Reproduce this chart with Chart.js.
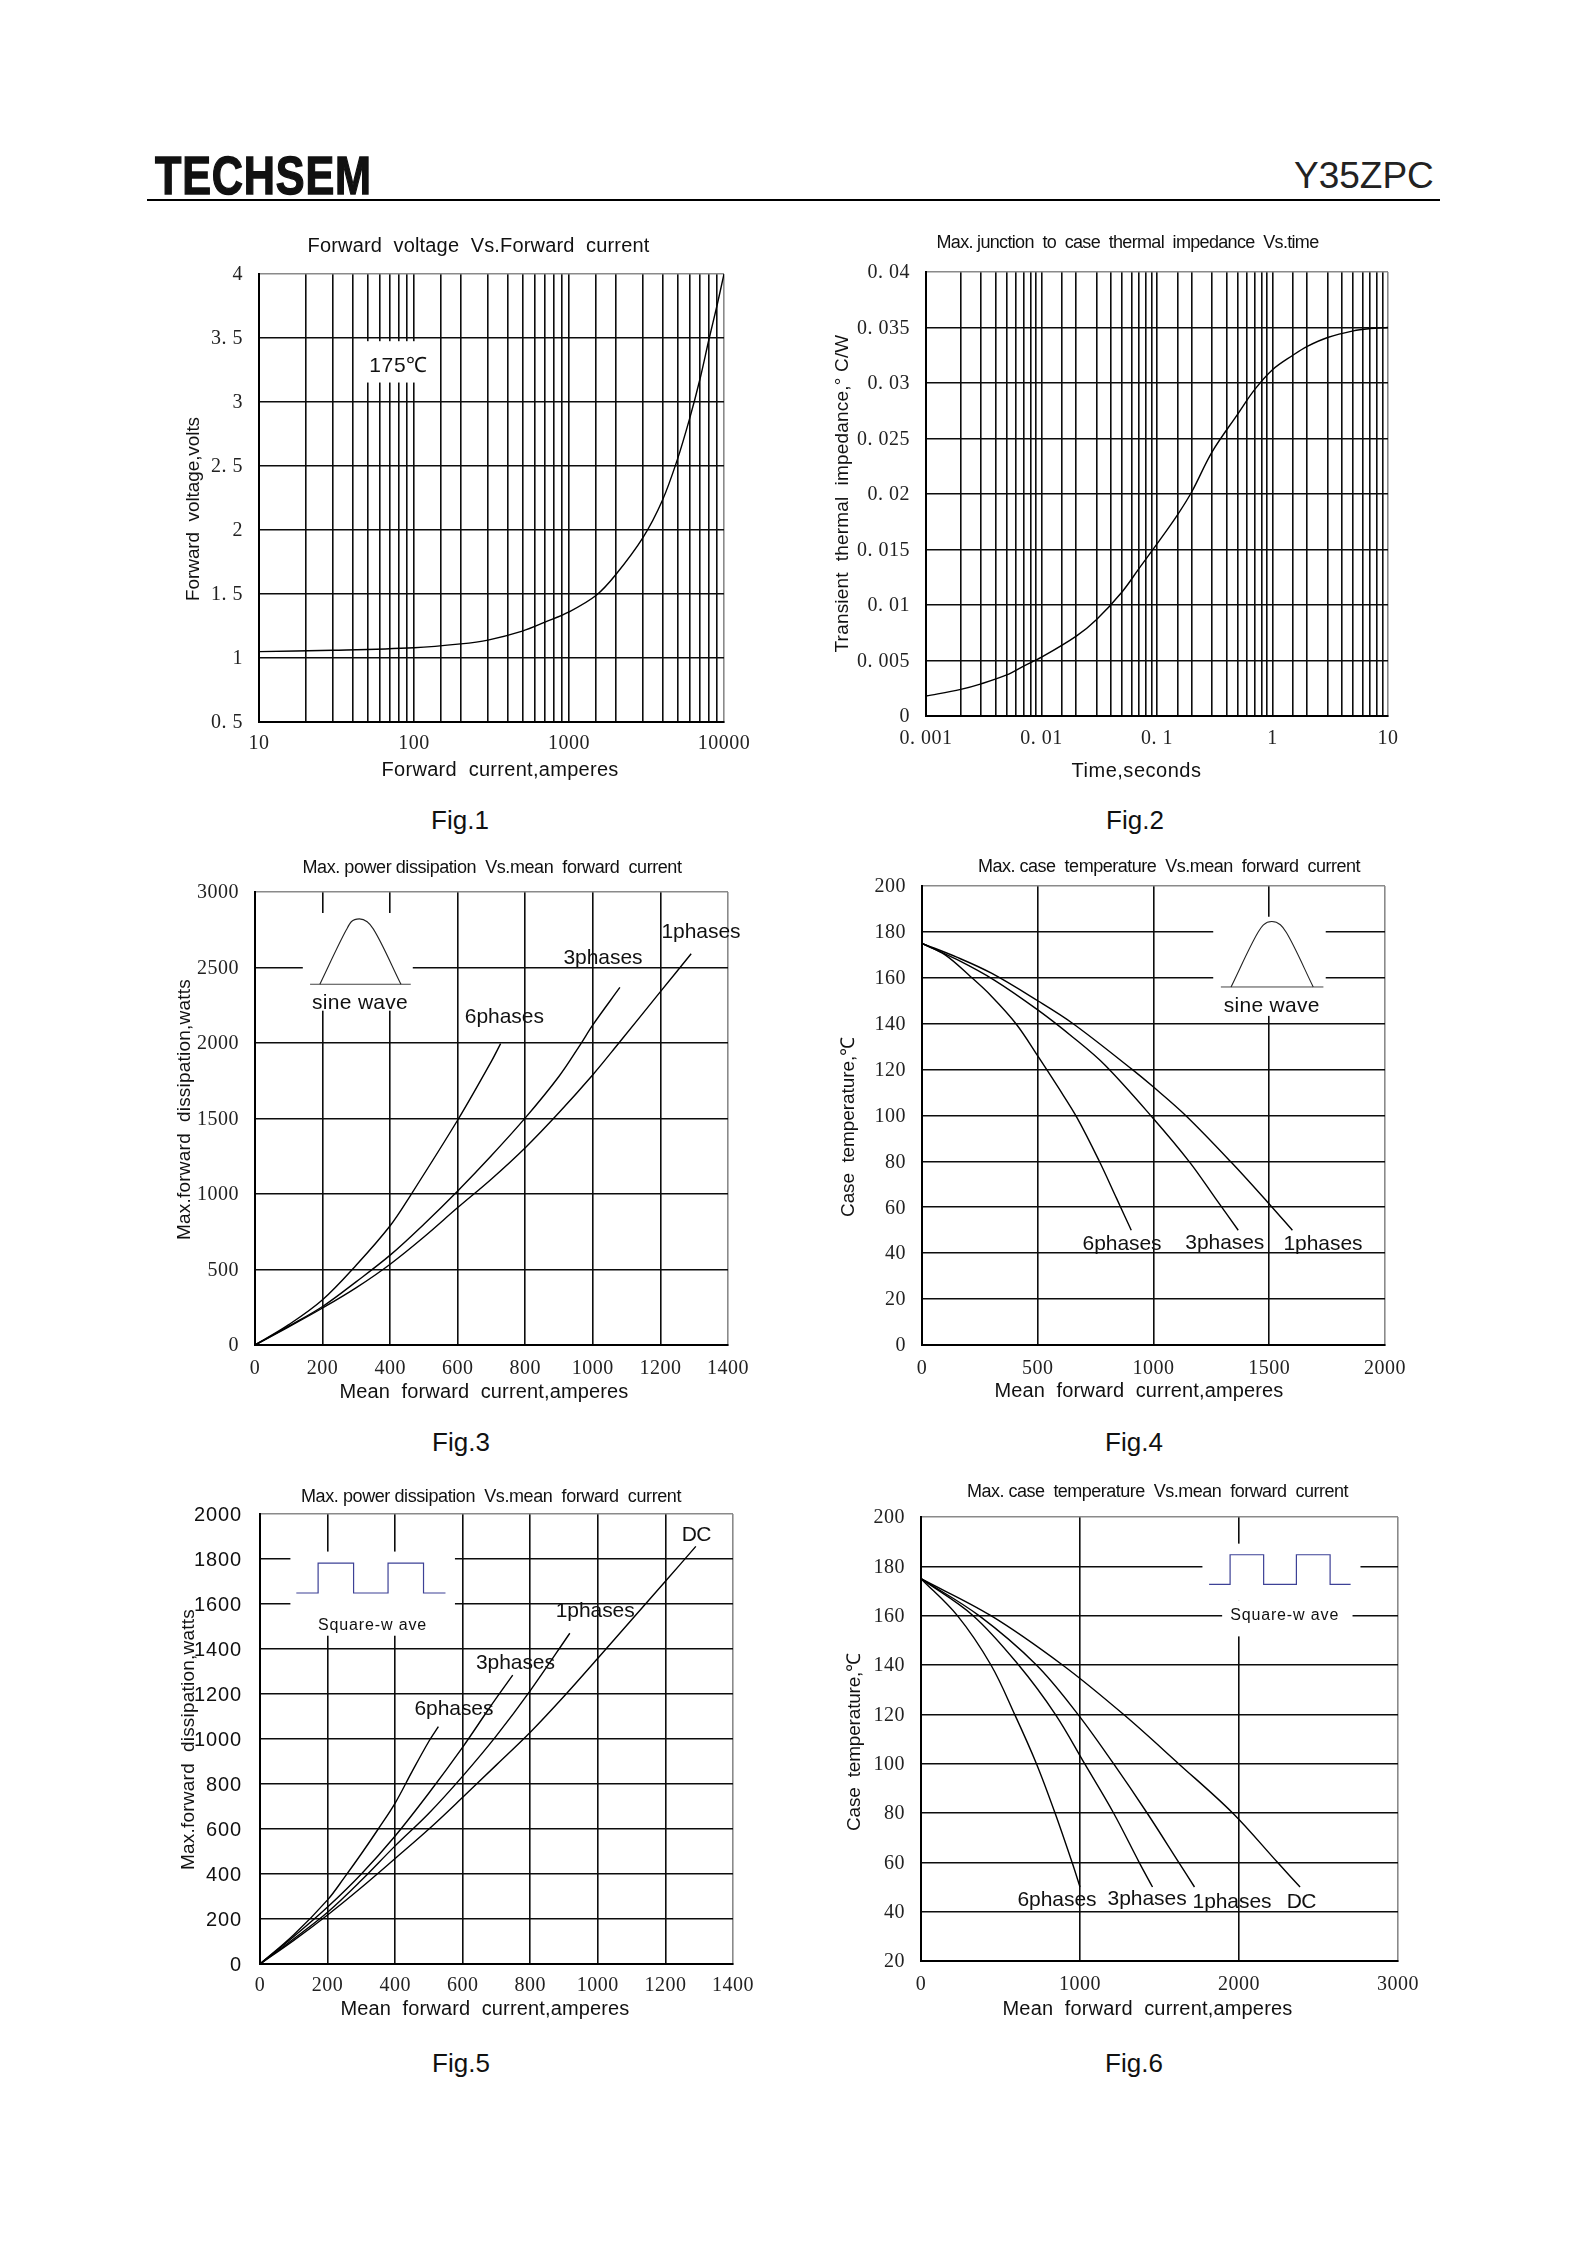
<!DOCTYPE html>
<html><head><meta charset="utf-8"><title>Y35ZPC</title>
<script src="https://cdn.jsdelivr.net/npm/chart.js@4/dist/chart.umd.min.js"></script>
<style>
html,body{margin:0;padding:0;background:#fff}
#page{position:relative;width:1588px;height:2245px;overflow:hidden;background:#fff;font-family:"Liberation Sans",Arial,sans-serif;color:#111}
canvas{position:absolute}
.t{position:absolute;white-space:nowrap;transform:translate(-50%,-50%)}
#logo{position:absolute;left:155px;top:148px;font-weight:700;font-size:54px;line-height:54px;letter-spacing:1px;transform-origin:0 0;transform:scaleX(.80);-webkit-text-stroke:1.4px #111;white-space:nowrap}
#part{position:absolute;left:1294px;top:153.5px;font-size:37px;line-height:44px;color:#222}
#rule{position:absolute;left:147px;top:199px;width:1293px;height:2px;background:#000}
</style></head><body><div id="page">
<div id="logo">TECHSEM</div><div id="part">Y35ZPC</div><div id="rule"></div>
</div>
<script>
// ---------- Data ----------
const fig1X=[10,30,100,200,300,500,700,1000,1500,2000,3000,4000,5000,6000,7000,8000,9000,10000];
const fig1Y=[1.05,1.06,1.08,1.11,1.14,1.21,1.28,1.36,1.49,1.65,1.94,2.23,2.55,2.87,3.18,3.49,3.75,4];

const fig2X=[0.001,0.002,0.003,0.005,0.007,0.01,0.02,0.03,0.05,0.07,0.1,0.15,0.2,0.3,0.5,0.7,1,1.5,2,3,5,7,10];
const fig2Y=[0.0018,0.0024,0.0029,0.0037,0.0045,0.0053,0.0072,0.0087,0.0112,0.0133,0.0155,0.0181,0.0202,0.0238,0.0272,0.0294,0.0312,0.0325,0.0333,0.0341,0.0347,0.0349,0.035];

const fig3X6=[0,100,200,300,400,460,600,700,727];
const fig3Y6=[0,135,300,530,790,990,1490,1880,1996];
const fig3X3=[0,100,200,300,400,500,600,700,800,900,963,1000,1080];
const fig3Y3=[0,125,255,420,595,800,1020,1255,1504,1780,1990,2120,2368];
const fig3X1=[0,100,200,300,400,500,600,700,800,900,1000,1077,1200,1291];
const fig3Y1=[0,120,245,380,535,715,910,1100,1307,1540,1790,2000,2340,2591];

const fig4X6=[0,100,210,300,406,500,590,670,764,840,904];
const fig4Y6=[175,170,160.5,152,140,126,112,99,80.5,64,50];
const fig4X3=[0,150,312,500,653,790,1000,1156,1267,1366];
const fig4Y3=[175,168,159,146,134,122,98.6,79.7,64,50];
const fig4X1=[0,150,300,500,653,909,1000,1139,1335,1495,1600];
const fig4Y1=[175,169,162,150,140,120,112.4,100,79.7,62,50];

const fig5X6=[0,100,200,250,300,350,400,450,500,528];
const fig5Y6=[0,130,285,385,490,600,715,855,990,1055];
const fig5X3=[0,100,200,300,400,500,600,680,748];
const fig5Y3=[0,122,253,400,569,760,964,1140,1284];
const fig5X1=[0,100,200,300,400,500,600,700,800,917];
const fig5Y1=[0,112,230,372,525,670,835,1015,1215,1470];
const fig5XDC=[0,100,200,300,400,500,600,700,800,900,1000,1100,1200,1290];
const fig5YDC=[0,105,218,340,469,600,741,885,1030,1190,1359,1530,1701,1856];

const fig6X6=[0,229,440,589,726,843,950,1000];
const fig6X3=[0,328,614,845,1029,1211,1372,1456];
const fig6X1=[0,365,726,987,1211,1422,1621,1720];
const fig6XDC=[0,440,890,1273,1620,1960,2242,2384];
const fig6Temps=[175,160,140,120,100,80,60,50];

// inset wave shapes (axis units)
const sine3X=[192,270,285,309,332,350,432], sine3Y=[2389,2748,2803,2822,2803,2756,2389];
const base3X=[163,461], base3Y=[2389,2389];
const sine4X=[1335,1451,1475,1511,1548,1574,1690], sine4Y=[156,179.7,183.1,184.5,183.1,179.7,156];
const base4X=[1291,1734], base4Y=[156,156];
const square5X=[107.5,172,172,277,277,379,379,484,484,549], square5Y=[1649,1649,1782,1782,1649,1649,1782,1782,1649,1649];
const square6X=[1812,1944,1944,2155,2155,2361,2361,2573,2573,2702], square6Y=[172.7,172.7,184.7,184.7,172.7,172.7,184.7,184.7,172.7,172.7];

// tick labels
const ticksV=['0. 5','1','1. 5','2','2. 5','3','3. 5','4'];
const ticksI=['10','100','1000','10000'];
const ticksZ=['0','0. 005','0. 01','0. 015','0. 02','0. 025','0. 03','0. 035','0. 04'];
const ticksT=['0. 001','0. 01','0. 1','1','10'];

// ---------- Helpers ----------
const pts=(xs,ys)=>xs.map((x,i)=>({x,y:ys[i]}));
const curve=(name,xs,ys)=>({label:name,data:pts(xs,ys),borderColor:'#000',borderWidth:1.4,pointRadius:0,tension:0.35,fill:false});
const inset=(name,xs,ys,color,w)=>({label:name,data:pts(xs,ys),borderColor:color,borderWidth:w,pointRadius:0,tension:0,fill:false});
const insetSmooth=(name,xs,ys)=>({label:name,data:pts(xs,ys),borderColor:'#222',borderWidth:1.1,pointRadius:0,cubicInterpolationMode:'monotone',fill:false});
const BLUE='#3d4196';
const SERIF='"Liberation Serif"', SANS='"Liberation Sans"';

function fitSpacing(ctx,text,font,target){
  ctx.save();ctx.font=font;ctx.letterSpacing='0px';
  const w=ctx.measureText(text).width;ctx.restore();
  return (target-w)/Math.max(1,text.length);
}

const figures=[
 {id:1,plot:[258.5,274,723.5,722],xPad:10,
  x:{type:'logarithmic',min:10,max:10000,labels:ticksI},y:{min:0.5,max:4,step:0.5,labels:ticksV},
  title:['Forward  voltage  Vs.Forward  current',478,246,342,20],
  xTitle:['Forward  current,amperes',499.6,770.5,237,20],
  yTitle:['Forward  voltage,volts',193,509,184,19],
  fig:['Fig.1',460,820],
  datasets:[curve('175℃',fig1X,fig1Y)],
  masks:[[47.8,104,3.475,3.152]],
  notes:[['175℃',79.6,3.28,59,21]]},
 {id:2,plot:[925.5,271.5,1387,715],xPad:11,
  x:{type:'logarithmic',min:0.001,max:10,labels:ticksT},y:{min:0,max:0.04,step:0.005,labels:ticksZ},
  title:['Max. junction  to  case  thermal  impedance  Vs.time',1127,242.5,382,18],
  xTitle:['Time,seconds',1136,770.5,130,20],
  yTitle:['Transient  thermal  impedance,° C/W',842,493,318,19],
  fig:['Fig.2',1135,820],
  datasets:[curve('Zth',fig2X,fig2Y)],masks:[],notes:[]},
 {id:3,plot:[255,892,728,1345],xPad:11.5,
  x:{min:0,max:1400,step:200},y:{min:0,max:3000,step:500},
  title:['Max. power dissipation  Vs.mean  forward  current',492,868.5,379,18],
  xTitle:['Mean  forward  current,amperes',484,1392,289,20],
  yTitle:['Max.forward  dissipation,watts',184.5,1109.5,261,19],
  fig:['Fig.3',461,1442],
  datasets:[curve('6phases',fig3X6,fig3Y6),curve('3phases',fig3X3,fig3Y3),curve('1phases',fig3X1,fig3Y1),
            insetSmooth('sine',sine3X,sine3Y),inset('base',base3X,base3Y,'#444',1)],
  masks:[[141.5,467,2861,2214]],
  notes:[['sine wave',311,2262,96,21],['6phases',738,2170,79,21],['3phases',1030,2561,79,21],['1phases',1320,2731,79,21]]},
 {id:4,plot:[922,886,1385,1344.5],xPad:11.5,
  x:{min:0,max:2000,step:500},y:{min:0,max:200,step:20},
  title:['Max. case  temperature  Vs.mean  forward  current',1169,867.5,382,18],
  xTitle:['Mean  forward  current,amperes',1139,1391,289,20],
  yTitle:['Case  temperature,℃',848.5,1127,180,19],
  fig:['Fig.4',1134,1442],
  datasets:[curve('6phases',fig4X6,fig4Y6),curve('3phases',fig4X3,fig4Y3),curve('1phases',fig4X1,fig4Y1),
            insetSmooth('sine',sine4X,sine4Y),inset('base',base4X,base4Y,'#444',1)],
  masks:[[1258,1744,186.6,143.4]],
  notes:[['sine wave',1511,147.5,96,21],['6phases',864,43.8,79,21],['3phases',1308,44.2,79,21],['1phases',1732,43.8,79,21]]},
 {id:5,plot:[260,1513.5,733,1963.5],xPad:10,
  x:{min:0,max:1400,step:200},y:{min:0,max:2000,step:200,sans:true},
  title:['Max. power dissipation  Vs.mean  forward  current',491,1496.5,380,18],
  xTitle:['Mean  forward  current,amperes',485,2009,289,20],
  yTitle:['Max.forward  dissipation,watts',188.5,1739,261,19],
  fig:['Fig.5',461,2063],
  datasets:[curve('6phases',fig5X6,fig5Y6),curve('3phases',fig5X3,fig5Y3),curve('1phases',fig5X1,fig5Y1),curve('DC',fig5XDC,fig5YDC),
            inset('square',square5X,square5Y,BLUE,1.2)],
  masks:[[90,577,1833,1459]],
  notes:[['Square-w ave',333,1505,109,16],['6phases',574,1132,79,21],['3phases',756,1336,79,21],['1phases',992,1568,79,21],['DC',1291,1907,29,21]]},
 {id:6,plot:[920.5,1516.5,1397,1960.5],xPad:12,
  x:{min:0,max:3000,step:1000},y:{min:20,max:200,step:20},
  title:['Max. case  temperature  Vs.mean  forward  current',1157,1491.5,381,18],
  xTitle:['Mean  forward  current,amperes',1147,2009,290,20],
  yTitle:['Case  temperature,℃',854.5,1741.5,178,19],
  fig:['Fig.6',1134,2063],
  datasets:[curve('6phases',fig6X6,fig6Temps),curve('3phases',fig6X3,fig6Temps),curve('1phases',fig6X1,fig6Temps),curve('DC',fig6XDC,fig6Temps),
            inset('square',square6X,square6Y,BLUE,1.2)],
  masks:[[1770,2764,189.2,166],[1894,2714,166,151.6]],
  notes:[['Square-w ave',2287,160,109,16],['6phases',855,44.6,79,21],['3phases',1422,45,79,21],['1phases',1956,43.8,79,21],['DC',2391,44,29,21]]}
];

const GAP={l:130,t:50,r:60,b:75};

function tickCb(axis){
  if(axis.type==='logarithmic'){
    return v=>{const k=Math.round(Math.log10(v/axis.min));
      return Math.abs(v/(axis.min*Math.pow(10,k))-1)<1e-6?axis.labels[k]:'';};
  }
  if(axis.labels) return (v,i)=>axis.labels[i];
  return v=>String(v);
}

function edgeGrid(axis){
  return {color:c=>{const v=c.tick?c.tick.value:null;return v!=null&&Math.abs(v-axis.max)<1e-9?'#8a8a8a':'#0d0d0d';},lineWidth:1.6,drawTicks:false};
}

const sheetPlugin={
  id:'sheet',
  afterLayout(chart){
    const f=chart.options.plugins.sheet.fig, ox=f.plot[0]-GAP.l, oy=f.plot[1]-GAP.t, ctx=chart.ctx;
    const tb=chart.titleBlock, [tt,tx,ty,tw,ts]=f.title;
    tb.left=tx-ox-320;tb.right=tx-ox+320;tb.top=ty-oy-ts/2;tb.bottom=tb.top+ts;
    const tFont=`${ts}px ${SANS}`;
    if(!tb._wrapped){tb._wrapped=true;const od=tb.draw;
      tb.draw=function(){ctx.save();ctx.letterSpacing=fitSpacing(ctx,tt,tFont,tw)+'px';od.call(this);ctx.restore();};}
    const wrapTitle=(s,spec,horizontal)=>{
      const [txt,cx,cy,w,size]=spec,font=`${size}px ${SANS}`;
      const od=s.drawTitle;
      if(s._wrapped) return; s._wrapped=true;
      s.drawTitle=function(){
        const nx=horizontal?(s.left+s.right)/2:s.left+size/2;
        const ny=horizontal?s.bottom-size/2:(s.top+s.bottom)/2;
        ctx.save();ctx.translate(cx-ox-nx,cy-oy-ny);
        ctx.letterSpacing=fitSpacing(ctx,txt,font,w)+'px';
        od.call(this);ctx.restore();};
    };
    wrapTitle(chart.scales.x,f.xTitle,true);
    wrapTitle(chart.scales.y,f.yTitle,false);
    [[chart.scales.x,0.5,0],[chart.scales.y,f.y.sans?0.9:0.5,1]].forEach(([s,ls,dy])=>{
      if(s._tw) return; s._tw=true;const od=s.drawLabels;
      s.drawLabels=function(a){ctx.save();ctx.translate(0,dy);ctx.letterSpacing=ls+'px';od.call(this,a);ctx.restore();};
    });
  },
  beforeDatasetsDraw(chart){
    const f=chart.options.plugins.sheet.fig,{x,y}=chart.scales,ctx=chart.ctx;
    ctx.save();ctx.fillStyle='#fff';
    f.masks.forEach(m=>{
      const l=x.getPixelForValue(m[0]),r=x.getPixelForValue(m[1]),t=y.getPixelForValue(m[2]),b=y.getPixelForValue(m[3]);
      ctx.fillRect(l,t,r-l,b-t);
    });
    ctx.restore();
  },
  afterDatasetsDraw(chart){
    const f=chart.options.plugins.sheet.fig,{x,y}=chart.scales,ctx=chart.ctx;
    f.notes.forEach(n=>{
      const [t,vx,vy,w,size]=n,font=`${size}px ${SANS}`;
      ctx.save();ctx.font=font;ctx.fillStyle='#111';ctx.textAlign='center';ctx.textBaseline='middle';
      ctx.letterSpacing=fitSpacing(ctx,t,font,w)+'px';
      ctx.fillText(t,x.getPixelForValue(vx),y.getPixelForValue(vy));
      ctx.restore();
    });
  }
};

const page=document.getElementById('page');
figures.forEach(f=>{
  const [pl,pt,pr,pb]=f.plot;
  const W=Math.round(pr-pl)+GAP.l+GAP.r, H=Math.round(pb-pt)+GAP.t+GAP.b;
  const cv=document.createElement('canvas');
  cv.width=W;cv.height=H;cv.style.left=(pl-GAP.l)+'px';cv.style.top=(pt-GAP.t)+'px';
  cv.style.width=W+'px';cv.style.height=H+'px';
  page.appendChild(cv);
  const ts=f.title[4];
  const tickFontX={family:SERIF,size:20};
  const tickFontY=f.y.sans?{family:SANS,size:20}:{family:SERIF,size:20};
  new Chart(cv,{
    type:'line',
    data:{datasets:f.datasets},
    options:{
      responsive:false,animation:false,parsing:true,
      devicePixelRatio:1,
      layout:{padding:{left:0,top:GAP.t-ts,right:GAP.r,bottom:0}},
      interaction:{mode:null},
      plugins:{
        legend:{display:false},tooltip:{enabled:false},
        title:{display:true,text:f.title[0],color:'#111',padding:0,font:{family:SANS,size:ts,weight:'normal',lineHeight:1}},
        sheet:{fig:f}
      },
      scales:{
        x:{type:f.x.type||'linear',min:f.x.min,max:f.x.max,position:'bottom',
           grid:edgeGrid(f.x),border:{color:'#000',width:2},
           ticks:{autoSkip:false,maxRotation:0,minRotation:0,padding:f.xPad,color:'#222',font:tickFontX,
                  stepSize:f.x.step,callback:tickCb(f.x)},
           title:{display:true,text:f.xTitle[0],color:'#111',padding:0,font:{family:SANS,size:f.xTitle[4],lineHeight:1}},
           afterFit(s){s.height=GAP.b;}},
        y:{type:'linear',min:f.y.min,max:f.y.max,position:'left',
           grid:edgeGrid(f.y),border:{color:'#000',width:2},
           ticks:{autoSkip:false,padding:f.y.sans?18:16,color:f.y.sans?'#111':'#222',font:tickFontY,
                  stepSize:f.y.step,callback:tickCb(f.y)},
           title:{display:true,text:f.yTitle[0],color:'#111',padding:0,font:{family:SANS,size:f.yTitle[4],lineHeight:1}},
           afterFit(s){s.width=GAP.l;}}
      }
    },
    plugins:[sheetPlugin]
  });
  const d=document.createElement('div');d.className='t';d.textContent=f.fig[0];
  d.style.left=f.fig[1]+'px';d.style.top=f.fig[2]+'px';d.style.fontSize='26px';
  page.appendChild(d);
});
</script></body></html>
